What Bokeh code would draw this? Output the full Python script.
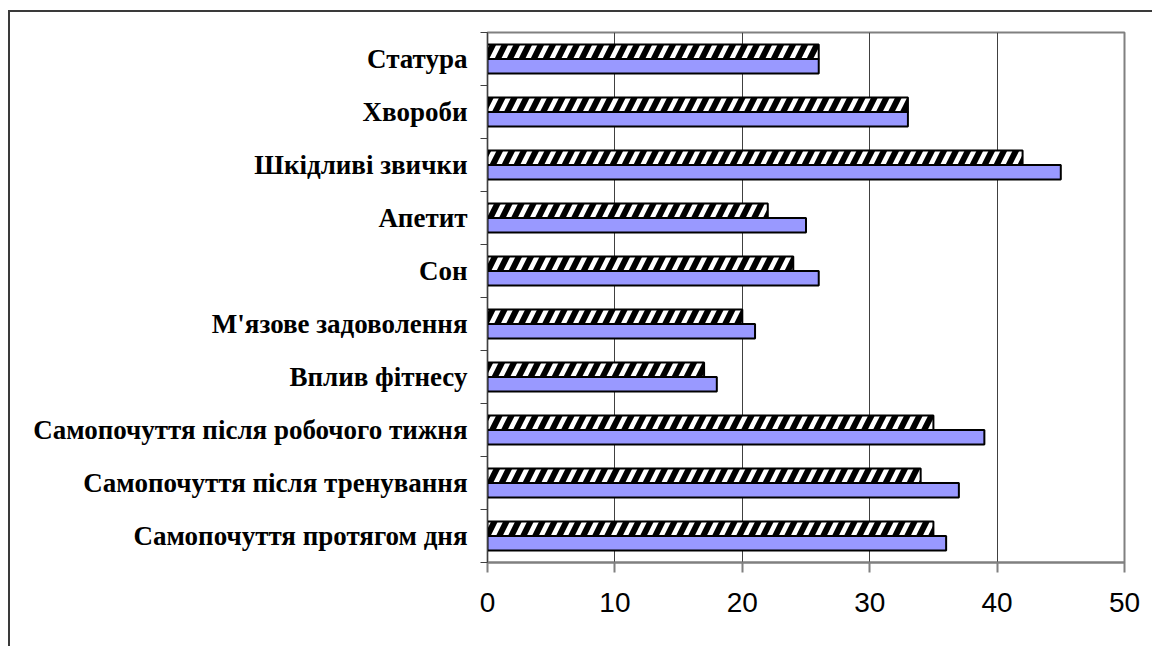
from bokeh.plotting import figure
from bokeh.models import Range1d, FixedTicker, ColumnDataSource
from bokeh.embed import file_html
from bokeh.resources import INLINE

# Data (bottom to top)
categories = [
    "Самопочуття протягом дня",
    "Самопочуття після тренування",
    "Самопочуття після робочого тижня",
    "Вплив фітнесу",
    "М'язове задоволення",
    "Сон",
    "Апетит",
    "Шкідливі звички",
    "Хвороби",
    "Статура",
]
series_hatched = [35, 34, 35, 17, 20, 24, 22, 42, 33, 26]
series_blue = [36, 37, 39, 18, 21, 26, 25, 45, 33, 26]
x_ticks = [0, 10, 20, 30, 40, 50]

BAR_H = 0.274
n = len(categories)
centers = [i + 0.5 for i in range(n)]

src_h = ColumnDataSource(dict(y=[c + BAR_H / 2 for c in centers], right=series_hatched))
src_b = ColumnDataSource(dict(y=[c - BAR_H / 2 for c in centers], right=series_blue))

p = figure(
    output_backend="svg", toolbar_location=None,
    frame_width=637, frame_height=530,
    min_border_left=477, min_border_right=28, min_border_top=20, min_border_bottom=84,
    x_range=Range1d(0, 50), y_range=Range1d(0, n),
)
p.styles = {
    "margin-left": "8px", "margin-top": "10px",
    "border-left": "2px solid #3a3a3a", "border-top": "2px solid #3a3a3a",
}

p.hbar(y="y", left=0, right="right", height=BAR_H, source=src_h,
       fill_color="white", hatch_pattern="/", hatch_color="black",
       hatch_weight=6, hatch_scale=24, line_color="black", line_width=2)
p.hbar(y="y", left=0, right="right", height=BAR_H, source=src_b,
       fill_color="#9999FF", line_color="black", line_width=2)

# x axis
p.xaxis.ticker = FixedTicker(ticks=x_ticks)
p.xaxis.major_label_text_font = "Liberation Sans"
p.xaxis.major_label_text_font_size = "28px"
p.xaxis.major_label_text_color = "black"
p.xaxis.major_tick_out = 10
p.xaxis.major_tick_in = 0
p.xaxis.minor_tick_out = 0
p.xaxis.minor_tick_in = 0
p.xaxis.major_label_standoff = 20
p.xaxis.axis_line_color = "#808080"
p.xaxis.axis_line_width = 2
p.xaxis.major_tick_line_color = "#808080"
p.xaxis.major_tick_line_width = 2

# y axis
p.yaxis.ticker = FixedTicker(ticks=centers, minor_ticks=list(range(n + 1)))
p.yaxis.major_label_overrides = {c: categories[i] for i, c in enumerate(centers)}
p.yaxis.major_label_text_font = "Liberation Serif"
p.yaxis.major_label_text_font_style = "bold"
p.yaxis.major_label_text_font_size = "27px"
p.yaxis.major_label_text_color = "black"
p.yaxis.major_tick_out = 0
p.yaxis.major_tick_in = 0
p.yaxis.minor_tick_out = 7
p.yaxis.minor_tick_in = 0
p.yaxis.minor_tick_line_color = "#404040"
p.yaxis.major_label_standoff = 13
p.yaxis.axis_line_color = "#404040"
p.yaxis.axis_line_width = 1

p.xgrid.ticker = FixedTicker(ticks=x_ticks)
p.xgrid.grid_line_color = "#404040"
p.xgrid.grid_line_width = 1
p.ygrid.grid_line_color = None

p.outline_line_color = "#808080"
p.outline_line_width = 2
p.background_fill_color = "white"
p.border_fill_color = "white"

open("out.html", "w").write(file_html(p, INLINE))
